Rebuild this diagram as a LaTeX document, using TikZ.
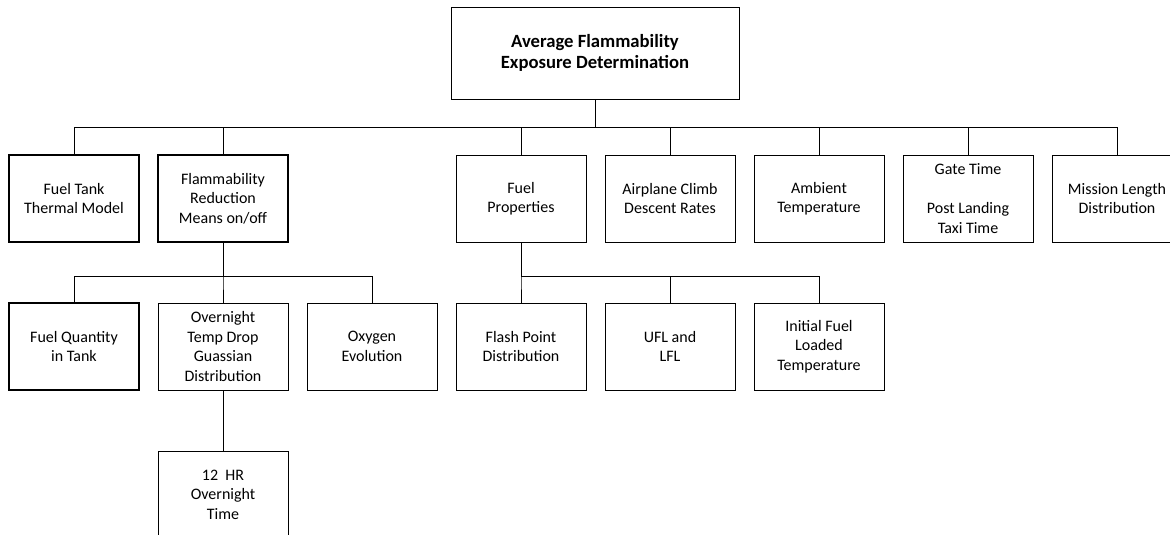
\documentclass[tikz,border=0pt]{standalone}
\usepackage{fontspec}
\setmainfont{Carlito}

\begin{document}
\begin{tikzpicture}[x=0.75pt, y=-0.75pt,
		box/.style={draw, line width=0.7pt, minimum width=97.5pt, minimum height=65.25pt, inner sep=0pt, align=center, font=\fontsize{12pt}{14.6pt}\selectfont},
		heavybox/.style={box, line width=1.3pt},
		link/.style={line width=0.7pt}]
		\useasboundingbox (0,0) rectangle (1170,535);
		\clip (0,0) rectangle (1170,535);
		
		% Top
		\node[box, minimum width=216pt, minimum height=69pt, font=\fontsize{14pt}{16pt}\selectfont\bfseries] (top) at (595,53) {Average Flammability\\Exposure Determination};
		
		% First row
		\node[heavybox] (ftm) at (74,198.5) {Fuel Tank\\Thermal Model};
		\node[heavybox] (frm) at (223,198.5) {Flammability\\Reduction\\Means on/off};
		\node[box] (fp) at (521,198.5) {Fuel\\Properties};
		\node[box] (acd) at (670,198.5) {Airplane Climb\\Descent Rates};
		\node[box] (amb) at (819,198.5) {Ambient\\Temperature};
		\node[box] (gate) at (968,198.5) {Gate Time\\[14.6pt]Post Landing\\Taxi Time};
		\node[box] (mis) at (1117,198.5) {Mission Length\\Distribution};
		
		% Second row
		\node[heavybox] (fq) at (74,346.5) {Fuel Quantity\\in Tank};
		\node[box] (otd) at (223,346.5) {Overnight\\Temp Drop\\Guassian\\Distribution};
		\node[box] (oxy) at (372,346.5) {Oxygen\\Evolution};
		\node[box] (fpd) at (521,346.5) {Flash Point\\Distribution};
		\node[box] (ufl) at (670,346.5) {UFL and\\LFL};
		\node[box] (ift) at (819,346.5) {Initial Fuel\\Loaded\\Temperature};
		
		% Third row
		\node[box] (hr) at (223,494.5) {12~ HR\\Overnight\\Time};
		
		% Connectors
		\foreach \c in {ftm,frm,fp,acd,amb,gate,mis}
			\draw[link] (top.south) -- ++(0,28) -| (\c.north);
		\foreach \c in {fq,otd,oxy}
			\draw[link] (frm.south) -- ++(0,34) -| (\c.north);
		\foreach \c in {fpd,ufl,ift}
			\draw[link] (fp.south) -- ++(0,34) -| (\c.north);
		\draw[link] (otd) -- (hr);
	\end{tikzpicture}
\end{document}
